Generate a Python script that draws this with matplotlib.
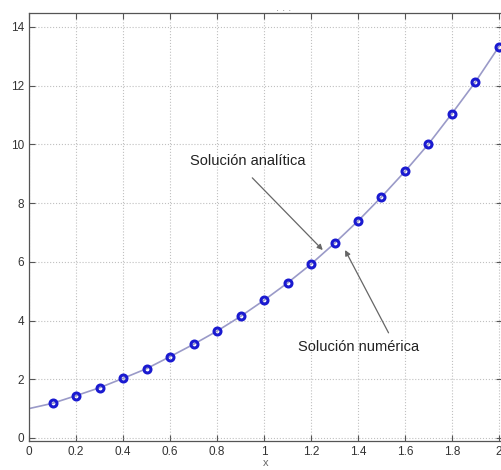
import matplotlib.pyplot as plt
import numpy as np

plt.rcParams['font.family'] = ['Liberation Sans', 'DejaVu Sans']

# analytic solution (line)
x_anal = [0.0, 0.1, 0.2, 0.3, 0.4, 0.5, 0.6, 0.7, 0.8, 0.9, 1.0,
          1.1, 1.2, 1.3, 1.4, 1.5, 1.6, 1.7, 1.8, 1.9, 2.0]
y_anal = [1.00, 1.18, 1.44, 1.71, 2.03, 2.36, 2.77, 3.19, 3.64, 4.14, 4.69,
          5.28, 5.92, 6.63, 7.39, 8.21, 9.08, 10.01, 11.05, 12.13, 13.33]

# numerical solution (markers)
x_num = [0.1, 0.2, 0.3, 0.4, 0.5, 0.6, 0.7, 0.8, 0.9, 1.0,
         1.1, 1.2, 1.3, 1.4, 1.5, 1.6, 1.7, 1.8, 1.9, 2.0]
y_num = [1.18, 1.44, 1.71, 2.03, 2.36, 2.77, 3.19, 3.64, 4.14, 4.69,
         5.28, 5.92, 6.63, 7.39, 8.21, 9.08, 10.01, 11.05, 12.13, 13.33]

xticks = [0, 0.2, 0.4, 0.6, 0.8, 1, 1.2, 1.4, 1.6, 1.8, 2]
xticklabels = ['0', '0.2', '0.4', '0.6', '0.8', '1', '1.2', '1.4', '1.6', '1.8', '2']
yticks = [0, 2, 4, 6, 8, 10, 12, 14]

fig = plt.figure(figsize=(5.02, 4.70), dpi=100)
ax = fig.add_axes([0.058, 0.062, 0.942, 0.910])

ax.plot(x_anal, y_anal, color='#9a9ac8', lw=1.2, zorder=2)
ax.plot(x_num, y_num, 'o', mfc='none', mec='#1a1ad0', ms=5, mew=2.2, zorder=3)

ax.set_xlim(0, 2.013)
ax.set_ylim(-0.1, 14.47)
ax.set_xticks(xticks)
ax.set_xticklabels(xticklabels)
ax.set_yticks(yticks)
ax.grid(True, ls=':', color='#c0c0c0', lw=0.8)
ax.tick_params(direction='in', top=True, right=True, length=4,
               labelsize=8.5, labelcolor='#333333', color='#555555')
for s in ax.spines.values():
    s.set_color('#555555')
    s.set_linewidth(0.9)

# title and x label (mostly cropped in the original)
fig.text(0.565, 0.982, '. . .', fontsize=8, color='#888888', ha='center', va='center')
ax.set_xlabel('x', fontsize=8, labelpad=0, color='#666666')

ax.text(0.93, 9.43, 'Solución analítica', ha='center', va='center',
        fontsize=10.5, color='#222222')
ax.annotate('', xy=(1.25, 6.40), xytext=(0.95, 8.86),
            arrowprops=dict(arrowstyle='-|>', color='#666666', lw=0.9,
                            shrinkA=0, shrinkB=0, mutation_scale=8))
ax.text(1.404, 3.10, 'Solución numérica', ha='center', va='center',
        fontsize=10.5, color='#222222')
ax.annotate('', xy=(1.345, 6.40), xytext=(1.53, 3.58),
            arrowprops=dict(arrowstyle='-|>', color='#666666', lw=0.9,
                            shrinkA=0, shrinkB=0, mutation_scale=8))

fig.savefig('out.png', dpi=100)
